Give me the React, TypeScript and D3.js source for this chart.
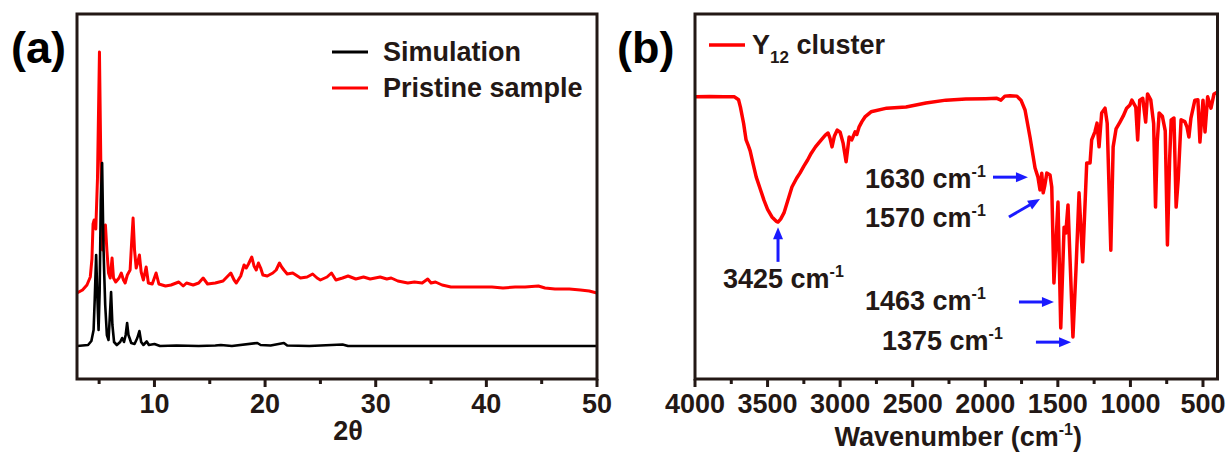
import React from "react";
import * as d3 from "d3";

// ---------- Panel (a): PXRD ----------
const xrdTicks = [10, 20, 30, 40, 50];
const xrdMinorTicks = [5, 15, 25, 35, 45];
const xrdLegend = ["Simulation", "Pristine sample"];

// [2θ, intensity (a.u.)]
const pristine: [number, number][] = [
  [3.0, 86], [3.5, 89], [3.9, 94], [4.2, 102], [4.35, 120], [4.45, 155], [4.55, 159], [4.7, 150],
  [4.85, 200], [5.03, 327], [5.15, 219], [5.3, 129], [5.45, 147], [5.57, 154], [5.7, 129],
  [5.85, 106], [6.0, 101], [6.17, 121], [6.3, 101], [6.5, 97], [6.8, 101], [7.0, 106], [7.2, 99],
  [7.35, 96], [7.55, 104], [7.8, 109], [7.95, 139], [8.07, 161], [8.2, 129], [8.35, 111], [8.5, 117],
  [8.64, 124], [8.8, 107], [9.0, 99], [9.25, 112], [9.45, 96], [9.8, 95], [10.15, 106], [10.4, 95],
  [11, 93], [11.5, 94], [12.2, 97], [12.6, 93], [12.9, 96], [13.5, 94], [14.0, 96], [14.4, 101],
  [14.8, 95], [15.5, 96], [16.2, 98], [16.9, 106], [17.2, 99], [17.4, 96], [17.8, 103], [18.1, 114],
  [18.3, 111], [18.5, 115], [18.8, 122], [19.0, 113], [19.2, 109], [19.4, 116], [19.6, 111],
  [19.8, 104], [20.2, 103], [20.7, 106], [21.0, 109], [21.3, 116], [21.5, 112], [21.7, 109],
  [22.0, 105], [22.5, 106], [23.2, 101], [23.8, 102], [24.3, 105], [24.7, 101], [25.0, 99],
  [25.6, 102], [26.0, 106], [26.4, 99], [27.0, 101], [27.5, 103], [28.2, 100], [28.9, 102],
  [29.5, 100], [30.4, 102], [31.0, 100], [31.4, 101], [32.0, 98], [32.9, 96], [33.5, 97], [34.2, 96],
  [34.7, 100], [35.0, 96], [35.4, 97], [36.0, 94], [36.8, 92], [38.0, 92], [39.0, 92], [40.5, 92],
  [41.5, 91], [42.6, 92], [43.5, 92], [44.7, 93], [45.3, 91], [46.2, 90], [47.5, 90], [48.5, 89],
  [49.3, 88], [50.0, 86],
];

const simulation: [number, number][] = [
  [3.0, 33], [4.0, 34], [4.3, 38], [4.5, 49], [4.6, 79], [4.73, 124], [4.85, 79], [4.95, 49],
  [5.05, 89], [5.15, 179], [5.27, 216], [5.38, 139], [5.45, 109], [5.55, 74], [5.7, 44], [5.85, 39],
  [5.95, 59], [6.08, 87], [6.2, 54], [6.35, 37], [6.6, 34], [6.9, 37], [7.08, 41], [7.25, 37],
  [7.4, 44], [7.53, 56], [7.65, 44], [7.75, 41], [7.9, 36], [8.2, 35], [8.45, 41], [8.64, 48],
  [8.8, 37], [9.0, 34], [9.3, 37.5], [9.5, 34], [10.0, 35], [10.5, 33], [12, 33.5], [14, 33],
  [15.5, 33.5], [16.0, 34], [17, 33], [19.3, 36], [19.6, 34], [20.5, 33.5], [21.7, 36], [22.0, 33.5],
  [24, 33], [27.0, 34.5], [27.5, 33], [35, 33], [50, 33],
];

// ---------- Panel (b): FT-IR ----------
const irTicks = [4000, 3500, 3000, 2500, 2000, 1500, 1000, 500];
const irMinorTicks = [3750, 3250, 2750, 2250, 1750, 1250, 750];

// [wavenumber, transmittance (%)]
const irSpectrum: [number, number][] = [
  [4000, 77.3], [3900, 77.4], [3800, 77.3], [3728, 77.3], [3700, 76.5], [3687, 74.5], [3665, 70],
  [3648, 65.5], [3634, 64.1], [3620, 62.5], [3600, 59], [3578, 55.3], [3550, 52], [3525, 49.0],
  [3500, 46.5], [3470, 44.4], [3440, 43.2], [3428, 43.0], [3410, 43.8], [3387, 45.5], [3360, 49],
  [3332, 52.6], [3300, 55], [3277, 56.4], [3250, 58.3], [3224, 60.0], [3200, 61.8], [3170, 63.6],
  [3130, 65.5], [3102, 66.8], [3083, 67.4], [3070, 66], [3056, 63.6], [3040, 66.5], [3020, 68.2],
  [3000, 67.6], [2980, 64.7], [2959, 59.5], [2945, 64], [2938, 66.3], [2920, 65.5], [2897, 67.7],
  [2885, 67], [2870, 69.0], [2850, 70.5], [2829, 71.8], [2787, 73.2], [2679, 74.2], [2546, 74.5],
  [2409, 75.6], [2271, 76.4], [2134, 76.7], [1998, 76.8], [1920, 76.9], [1892, 76.4], [1865, 77.5],
  [1830, 77.6], [1782, 77.5], [1754, 76.4], [1726, 73.7], [1692, 66.3], [1657, 57.8], [1637, 55.3],
  [1623, 51.8], [1611, 56.4], [1601, 51.0], [1590, 53], [1576, 56.4], [1554, 55.9], [1542, 52.6],
  [1527, 26.3], [1499, 48.5], [1480, 14.0], [1457, 41.6], [1445, 40], [1430, 47.7], [1396, 11.5],
  [1375, 30], [1354, 51.0], [1329, 32.1], [1301, 59.2], [1278, 59.2], [1267, 65.5], [1244, 67.8],
  [1230, 70.1], [1216, 63.6], [1198, 72.9], [1175, 74.2], [1160, 70.1], [1135, 35.3], [1119, 63.6],
  [1099, 68.5], [1072, 70.4], [1050, 72], [1026, 74.2], [1003, 75.1], [990, 76.4], [963, 74.5],
  [950, 65.5], [936, 76.4], [915, 76.9], [895, 70.4], [882, 78.1], [860, 76.5], [840, 70],
  [827, 47.1], [815, 65], [802, 72.9], [780, 72], [760, 68], [745, 36.7], [730, 60], [719, 71.0],
  [700, 71.5], [685, 47.1], [671, 54.5], [651, 71.0], [625, 70.5], [610, 69], [597, 66.3],
  [583, 71.5], [556, 76.4], [535, 76.5], [521, 64.9], [500, 76.4], [486, 67.7], [468, 77.3],
  [445, 74.2], [424, 78.1], [400, 78.6],
];

// Annotations: label, text anchor (wavenumber, T), arrow from -> to (wavenumber, T)
const irLabels = ["3425", "1630", "1570", "1463", "1375"];
const irLabelText: [number, number][] = [[3807, 24.9], [2829, 52.3], [2829, 41.6], [2829, 18.9], [2712, 7.9]];
const irArrowFrom: [number, number][] = [[3428, 32.1], [1947, 55.3], [1837, 44.4], [1768, 21.1], [1651, 10.1]];
const irArrowTo: [number, number][] = [[3428, 41.6], [1706, 55.3], [1623, 49.3], [1527, 21.1], [1409, 10.1]];

const INK = "#231815";
const FONT = "'Liberation Sans', Arial, Helvetica, sans-serif";

function Arrow({ x1, y1, x2, y2 }: { x1: number; y1: number; x2: number; y2: number }) {
  const dx = x2 - x1, dy = y2 - y1;
  const len = Math.hypot(dx, dy);
  const ux = dx / len, uy = dy / len;
  const head = 12, half = 5;
  const bx = x2 - ux * head, by = y2 - uy * head;
  const px = -uy, py = ux;
  return (
    <g>
      <line x1={x1} y1={y1} x2={bx + ux * 2} y2={by + uy * 2} stroke="#1a1aff" strokeWidth={3} />
      <polygon
        points={`${x2},${y2} ${bx + px * half},${by + py * half} ${bx - px * half},${by - py * half}`}
        fill="#1a1aff"
      />
    </g>
  );
}

export default function App() {
  // Panel a scales
  const ax = d3.scaleLinear().domain([3, 50]).range([77, 597]);
  const ay = d3.scaleLinear().domain([0, 365]).range([379, 14]);
  const aLine = d3.line<[number, number]>().x((d) => ax(d[0])).y((d) => ay(d[1]));

  // Panel b scales
  const bx = d3.scaleLinear().domain([4000, 400]).range([695, 1217.5]);
  const by = d3.scaleLinear().domain([0, 100]).range([379, 14]);
  const bLine = d3.line<[number, number]>().x((d) => bx(d[0])).y((d) => by(d[1]));

  const aTop = ay.range()[1], aBot = ay.range()[0];
  const aL = ax.range()[0], aR = ax.range()[1];
  const bL = bx.range()[0], bR = bx.range()[1];

  return (
    <svg
      width={1226}
      height={454}
      style={{ position: "absolute", left: 0, top: 0, background: "#fff" }}
      fontFamily={FONT}
      fontWeight="bold"
    >
      <defs>
        <clipPath id="clipA">
          <rect x={aL} y={aTop} width={aR - aL} height={aBot - aTop} />
        </clipPath>
        <clipPath id="clipB">
          <rect x={bL} y={aTop} width={bR - bL} height={aBot - aTop} />
        </clipPath>
      </defs>

      {/* ================= Panel (a) ================= */}
      <text x={11} y={63} fontSize={45} fill="#000">(a)</text>
      <g clipPath="url(#clipA)">
        <path d={aLine(pristine) || ""} fill="none" stroke="#ff0000" strokeWidth={3} strokeLinejoin="round" />
        <path d={aLine(simulation) || ""} fill="none" stroke="#000" strokeWidth={2.6} strokeLinejoin="round" />
      </g>
      <rect x={aL} y={aTop} width={aR - aL} height={aBot - aTop} fill="none" stroke={INK} strokeWidth={3} />
      {xrdTicks.map((t) => (
        <g key={"at" + t}>
          <line x1={ax(t)} x2={ax(t)} y1={aBot} y2={aBot + 8} stroke={INK} strokeWidth={3} />
          <text x={ax(t)} y={412.5} fontSize={27} textAnchor="middle" fill={INK}>{t}</text>
        </g>
      ))}
      {xrdMinorTicks.map((t) => (
        <line key={"am" + t} x1={ax(t)} x2={ax(t)} y1={aBot} y2={aBot + 5} stroke={INK} strokeWidth={3} />
      ))}
      <text x={348} y={440} fontSize={27} textAnchor="middle" fill={INK}>2θ</text>
      {/* legend a */}
      <line x1={332} x2={368} y1={52} y2={52} stroke="#000" strokeWidth={3} />
      <text x={383} y={61} fontSize={27} fill={INK}>{xrdLegend[0]}</text>
      <line x1={332} x2={368} y1={88} y2={88} stroke="#ff0000" strokeWidth={3} />
      <text x={383} y={97} fontSize={27} fill={INK}>{xrdLegend[1]}</text>

      {/* ================= Panel (b) ================= */}
      <text x={617} y={63} fontSize={45} fill="#000">(b)</text>
      <g clipPath="url(#clipB)">
        <path d={bLine(irSpectrum) || ""} fill="none" stroke="#ff0000" strokeWidth={3.5} strokeLinejoin="round" />
      </g>
      <rect x={bL} y={aTop} width={bR - bL} height={aBot - aTop} fill="none" stroke={INK} strokeWidth={3} />
      {irTicks.map((t) => (
        <g key={"bt" + t}>
          <line x1={bx(t)} x2={bx(t)} y1={aBot} y2={aBot + 8} stroke={INK} strokeWidth={3} />
          <text x={bx(t)} y={412.5} fontSize={27} textAnchor="middle" fill={INK}>{t}</text>
        </g>
      ))}
      {irMinorTicks.map((t) => (
        <line key={"bm" + t} x1={bx(t)} x2={bx(t)} y1={aBot} y2={aBot + 5} stroke={INK} strokeWidth={3} />
      ))}
      <text x={(bL + bR) / 2 + 2} y={446} fontSize={27} textAnchor="middle" fill={INK}>
        Wavenumber (cm
        <tspan fontSize={16} dy={-11}>-1</tspan>
        <tspan dy={11}>)</tspan>
      </text>
      {/* legend b */}
      <line x1={709} x2={745} y1={45} y2={45} stroke="#ff0000" strokeWidth={3.5} />
      <text x={752} y={54} fontSize={27} fill={INK}>
        Y
        <tspan fontSize={17} dy={9}>12</tspan>
        <tspan dy={-9}> cluster</tspan>
      </text>
      {/* annotations */}
      {irLabels.map((lab, i) => (
        <g key={"ann" + lab}>
          <text x={bx(irLabelText[i][0])} y={by(irLabelText[i][1])} fontSize={27} fill={INK}>
            {lab} cm
            <tspan fontSize={16} dy={-11}>-1</tspan>
          </text>
          <Arrow
            x1={bx(irArrowFrom[i][0])}
            y1={by(irArrowFrom[i][1])}
            x2={bx(irArrowTo[i][0])}
            y2={by(irArrowTo[i][1])}
          />
        </g>
      ))}
    </svg>
  );
}
